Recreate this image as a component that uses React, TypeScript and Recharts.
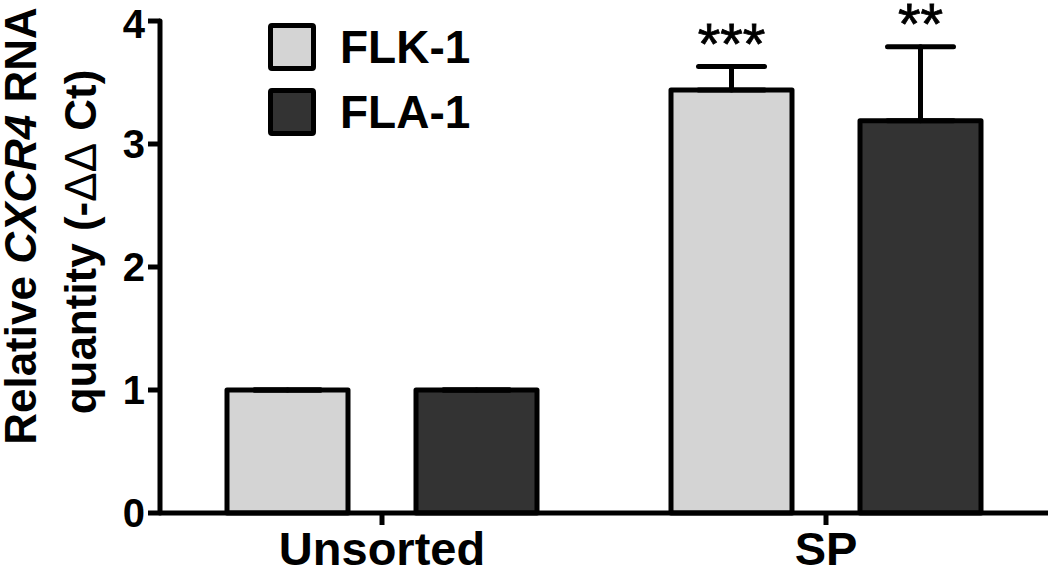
import { BarChart, Bar, XAxis, YAxis, ErrorBar, Label } from "recharts";

const FONT = "Arial, 'Liberation Sans', Helvetica, sans-serif";

const groups = ["Unsorted", "SP"];
const flkValues = [1, 3.44];
const flaValues = [1, 3.19];
const flkErrors = [0, 0.19];
const flaErrors = [0, 0.6];
const flkStars = ["", "***"];
const flaStars = ["", "**"];
const yTicks = [0, 1, 2, 3, 4];

const SERIES = [
  { key: "flk", name: "FLK-1", color: "#d4d4d4" },
  { key: "fla", name: "FLA-1", color: "#333333" },
];

const data = groups.map((g, i) => ({
  group: g,
  flk: flkValues[i],
  fla: flaValues[i],
  flkErr: [0, flkErrors[i]],
  flaErr: [0, flaErrors[i]],
  flkStars: flkStars[i],
  flaStars: flaStars[i],
}));

// bar rect + significance stars above the error cap
function makeShape(valueKey: string, errKey: string, starKey: string) {
  return (props: any) => {
    const { x, y, width, height, fill, payload } = props;
    const value = payload[valueKey];
    const err = payload[errKey][1];
    const perUnit = value ? height / value : 0;
    const capY = y - err * perUnit;
    return (
      <g>
        <rect
          x={x}
          y={y}
          width={width}
          height={height}
          fill={fill}
          stroke="#000"
          strokeWidth={5}
          strokeLinejoin="round"
        />
        {payload[starKey] ? (
          <text
            x={x + width / 2}
            y={capY - 3}
            textAnchor="middle"
            fontSize={58}
            fontFamily={FONT}
            stroke="#000"
            strokeWidth={0.8}
            fill="#000"
          >
            {payload[starKey]}
          </text>
        ) : null}
      </g>
    );
  };
}

function YTitle() {
  return (
    <g fontFamily={FONT} fontWeight="bold" fontSize={44} fill="#000">
      <text x={36} y={226} transform="rotate(-90, 36, 226)" textAnchor="middle">
        Relative <tspan fontStyle="italic">CXCR4</tspan> RNA
      </text>
      <text x={96} y={242} transform="rotate(-90, 96, 242)" textAnchor="middle">
        quantity (-<tspan fontWeight="normal">ΔΔ</tspan> Ct)
      </text>
    </g>
  );
}

function LegendBox() {
  return (
    <div style={{ position: "absolute", left: 268, top: 14, fontFamily: FONT }}>
      {SERIES.map((s) => (
        <div key={s.key} style={{ display: "flex", alignItems: "center", height: 65 }}>
          <div
            style={{
              width: 38,
              height: 38,
              background: s.color,
              border: "5px solid #000",
              borderRadius: 4,
              marginRight: 24,
            }}
          />
          <span style={{ fontSize: 46, fontWeight: "bold", color: "#000" }}>{s.name}</span>
        </div>
      ))}
    </div>
  );
}

export default function App() {
  return (
    <div style={{ position: "absolute", left: 0, top: 0, width: 1050, height: 574, background: "#fff" }}>
      <BarChart
        width={1050}
        height={574}
        data={data}
        margin={{ top: 21, right: 2, bottom: 0, left: 0 }}
        barSize={121}
        barGap={68}
      >
        <XAxis
          dataKey="group"
          height={61}
          axisLine={{ stroke: "#000", strokeWidth: 5 }}
          tickLine={{ stroke: "#000", strokeWidth: 5 }}
          tickSize={12}
          tickMargin={7}
          tick={{ fill: "#000", fontSize: 47, fontWeight: "bold", fontFamily: FONT }}
        />
        <YAxis
          width={160}
          domain={[0, 4]}
          ticks={yTicks}
          axisLine={{ stroke: "#000", strokeWidth: 5, strokeLinecap: "round" }}
          tickLine={{ stroke: "#000", strokeWidth: 5 }}
          tickSize={12}
          tickMargin={3}
          tick={{ fill: "#000", fontSize: 40, fontWeight: "bold", fontFamily: FONT }}
        >
          <Label content={() => <YTitle />} />
        </YAxis>
        <Bar
          dataKey="flk"
          name="FLK-1"
          fill={SERIES[0].color}
          isAnimationActive={false}
          shape={makeShape("flk", "flkErr", "flkStars")}
        >
          <ErrorBar dataKey="flkErr" width={33} strokeWidth={5} stroke="#000" strokeLinecap="round" direction="y" />
        </Bar>
        <Bar
          dataKey="fla"
          name="FLA-1"
          fill={SERIES[1].color}
          isAnimationActive={false}
          shape={makeShape("fla", "flaErr", "flaStars")}
        >
          <ErrorBar dataKey="flaErr" width={33} strokeWidth={5} stroke="#000" strokeLinecap="round" direction="y" />
        </Bar>
      </BarChart>
      <LegendBox />
    </div>
  );
}
